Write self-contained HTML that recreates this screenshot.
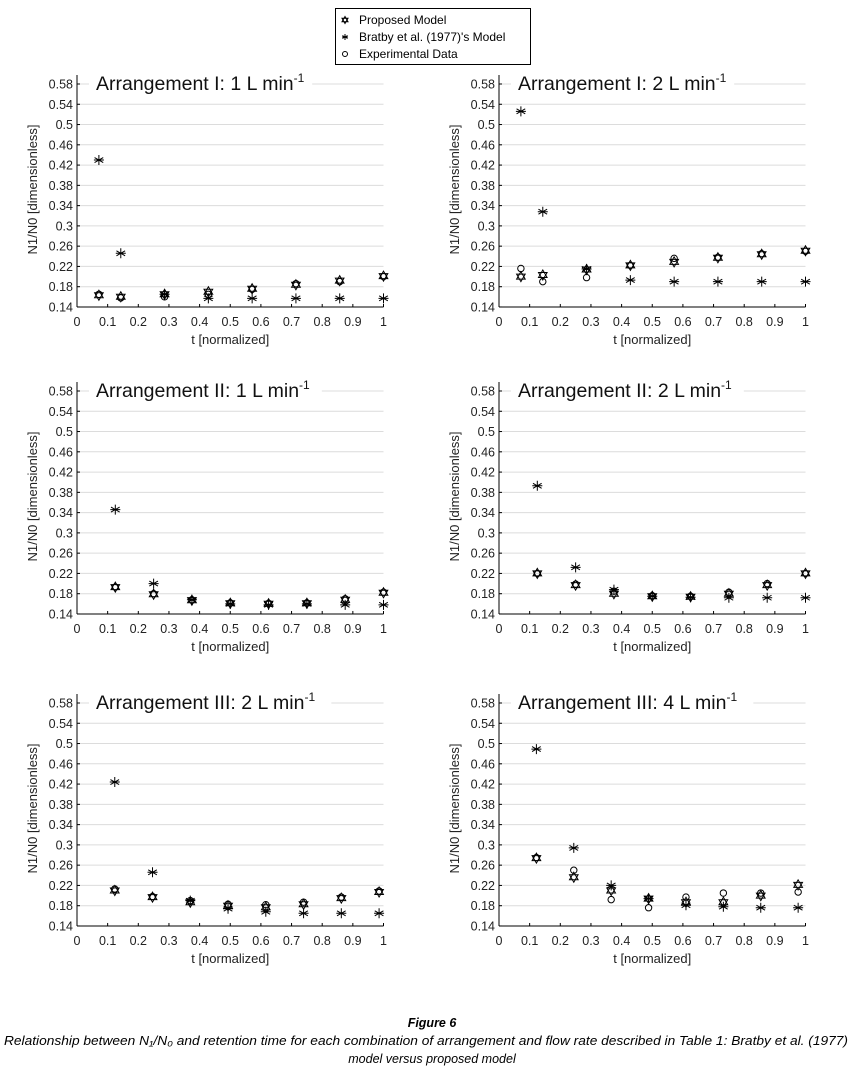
<!DOCTYPE html>
<html><head><meta charset="utf-8"><style>
html,body{margin:0;padding:0;background:#fff;}
svg{display:block;font-family:"Liberation Sans",sans-serif;}
</style></head><body>
<svg id="s" width="863" height="1079" xmlns="http://www.w3.org/2000/svg">
<rect width="863" height="1079" fill="#fff"/>
<g id="g"></g>
<rect x="335.5" y="8.5" width="195" height="56" fill="#fff" stroke="#000" stroke-width="1"/>
<g id="lg"></g>
<text x="359" y="24" font-size="12">Proposed Model</text>
<text x="359" y="41" font-size="12">Bratby et al. (1977)'s Model</text>
<text x="359" y="58" font-size="12">Experimental Data</text>
<g font-style="italic" font-family="'Liberation Sans Narrow','Liberation Sans',sans-serif" text-anchor="middle" font-size="12.5">
<text x="432" y="1027" font-weight="bold">Figure 6</text>
<text x="426" y="1045" textLength="844" lengthAdjust="spacingAndGlyphs">Relationship between N₁/N₀ and retention time for each combination of arrangement and flow rate described in Table 1: Bratby et al. (1977)</text>
<text x="432" y="1063">model versus proposed model</text>
</g>
</svg>
<script>
const NS="http://www.w3.org/2000/svg";const g=document.getElementById('g');const lg=document.getElementById('lg');
function el(t,a,p){const e=document.createElementNS(NS,t);for(const k in a)e.setAttribute(k,a[k]);(p||g).appendChild(e);return e;}
function hexa(x,y,r,p){const a=[],b=[];for(let i=0;i<3;i++){let t=-Math.PI/2+i*2*Math.PI/3;a.push((x+r*Math.cos(t)).toFixed(1)+','+(y+r*Math.sin(t)).toFixed(1));t=Math.PI/2+i*2*Math.PI/3;b.push((x+r*Math.cos(t)).toFixed(1)+','+(y+r*Math.sin(t)).toFixed(1));}
el('polygon',{points:a.join(' '),fill:'none',stroke:'#000','stroke-width':1},p);el('polygon',{points:b.join(' '),fill:'none',stroke:'#000','stroke-width':1},p);}
function ast(x,y,r,p){let d='';for(let i=0;i<3;i++){const t=Math.PI/2+i*Math.PI/3;d+=`M${x+r*Math.cos(t)},${y+r*Math.sin(t)}L${x-r*Math.cos(t)},${y-r*Math.sin(t)}`;}d+=`M${x-r},${y}L${x+r},${y}`;el('path',{d:d,stroke:'#000','stroke-width':1,fill:'none'},p);}
function circ(x,y,r,p){el('circle',{cx:x,cy:y,r:r,fill:'none',stroke:'#000','stroke-width':1},p);}
hexa(345,20,3.5,lg);ast(345,37,3,lg);circ(345,54,2.5,lg);
const panels=[
{x0:77,y0:84,title:"Arrangement I: 1 L min",xs:[1,2,4,6,8,10,12,14].map(k=>k/14),
P:[.163,.16,.165,.17,.176,.184,.192,.201],B:[.43,.246,.165,.157,.157,.157,.157,.157],E:[.165,.158,.16,.165,.175,.186,.19,.2]},
{x0:499,y0:84,title:"Arrangement I: 2 L min",xs:[1,2,4,6,8,10,12,14].map(k=>k/14),
P:[.2,.203,.214,.222,.229,.237,.244,.251],B:[.526,.328,.215,.193,.19,.19,.19,.19],E:[.216,.19,.198,.222,.236,.238,.245,.25]},
{x0:77,y0:391,title:"Arrangement II: 1 L min",xs:[1,2,3,4,5,6,7,8].map(k=>k*.125),
P:[.193,.179,.167,.161,.16,.161,.168,.182],B:[.346,.2,.168,.16,.158,.16,.158,.158],E:[.193,.18,.168,.162,.161,.162,.17,.183]},
{x0:499,y0:391,title:"Arrangement II: 2 L min",xs:[1,2,3,4,5,6,7,8].map(k=>k*.125),
P:[.22,.197,.18,.175,.174,.18,.197,.22],B:[.393,.232,.188,.175,.173,.172,.172,.172],E:[.22,.199,.185,.176,.175,.183,.2,.22]},
{x0:77,y0:703,title:"Arrangement III: 2 L min",xs:[1,2,3,4,5,6,7,8].map(k=>k*.1232),
P:[.21,.197,.187,.18,.177,.183,.195,.207],B:[.424,.246,.19,.174,.168,.165,.165,.165],E:[.213,.198,.19,.183,.182,.187,.197,.209]},
{x0:499,y0:703,title:"Arrangement III: 4 L min",xs:[1,2,3,4,5,6,7,8].map(k=>k*.122),
P:[.274,.236,.21,.194,.187,.187,.2,.221],B:[.489,.294,.22,.194,.181,.178,.176,.176],E:[.275,.25,.192,.176,.197,.205,.205,.207]}];
const W=306.5,S=20.27;
panels.forEach(p=>{
 const X=v=>p.x0+v*W, Y=v=>p.y0+(0.58-v)/0.04*S, yb=Y(0.14);
 for(let i=0;i<=11;i++){const v=0.14+i*0.04,y=Y(v);
  if(i>0)el('line',{x1:p.x0,x2:p.x0+W,y1:y,y2:y,stroke:'#dcdcdc','stroke-width':1});
  el('line',{x1:p.x0,x2:p.x0+3,y1:y,y2:y,stroke:'#000','stroke-width':1});
  const t=el('text',{x:p.x0-4,y:y+4.5,'font-size':12.5,'text-anchor':'end',fill:'#222'});t.textContent=(+v.toFixed(2)).toString();}
 el('line',{x1:p.x0,x2:p.x0,y1:p.y0-9,y2:yb,stroke:'#000','stroke-width':1});
 el('line',{x1:p.x0,x2:p.x0+W,y1:yb,y2:yb,stroke:'#000','stroke-width':1});
 for(let i=0;i<=10;i++){const x=X(i/10);el('line',{x1:x,x2:x,y1:yb,y2:yb-3,stroke:'#000','stroke-width':1});
  const t=el('text',{x:x,y:yb+19,'font-size':12.5,'text-anchor':'middle',fill:'#222'});t.textContent=i==0?'0':i==10?'1':'0.'+i;}
 const tl=el('text',{x:p.x0+W/2,y:yb+37,'font-size':13,'text-anchor':'middle',fill:'#222'});tl.textContent='t [normalized]';
 const yl=el('text',{x:0,y:0,'font-size':13,'text-anchor':'middle',fill:'#222',transform:`translate(${p.x0-40},${(p.y0+yb)/2-6}) rotate(-90)`});yl.textContent='N1/N0 [dimensionless]';
 const tw=p.title.length*9.6+12;
 el('rect',{x:p.x0+12,y:p.y0-14,width:tw,height:20,fill:'#fff'});
 const tt=el('text',{x:p.x0+19,y:p.y0+6,'font-size':19.5,fill:'#111'});tt.textContent=p.title;
 const sp=el('tspan',{dy:-8,'font-size':12},tt);sp.textContent='-1';
 p.xs.forEach((xv,i)=>{const x=X(xv);circ(x,Y(p.E[i]),3.2);hexa(x,Y(p.P[i]),5);ast(x,Y(p.B[i]),5);});
});
</script>
</body></html>
